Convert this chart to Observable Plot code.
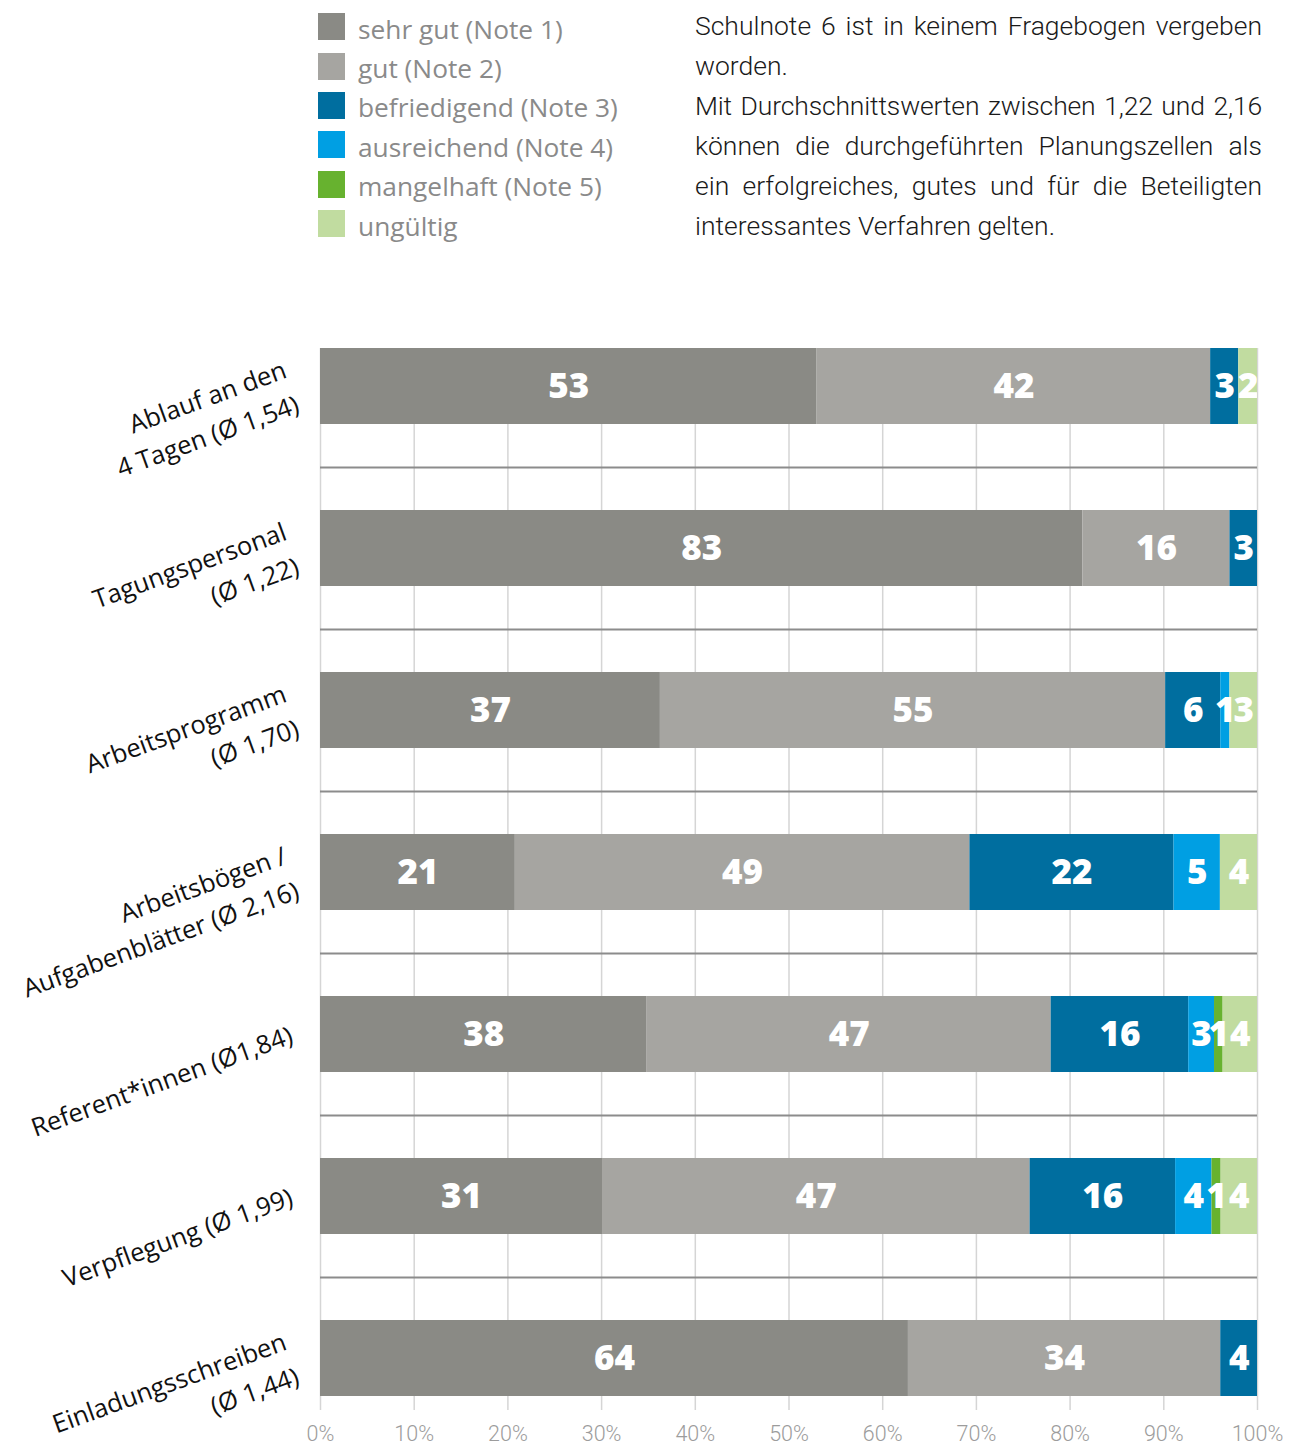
<!DOCTYPE html>
<html>
<head>
<meta charset="utf-8">
<script src="https://cdn.jsdelivr.net/npm/d3@7"></script>
<script src="https://cdn.jsdelivr.net/npm/@observablehq/plot@0.6"></script>
<style>
  html, body { margin: 0; padding: 0; background: #fff; }
  body { width: 1297px; }
  #header { position: relative; height: 260px; }
  #legend { position: absolute; left: 318px; top: 7px; font-family: "Open Sans", sans-serif; font-size: 26.3px; color: #8a8a8a; }
  #legend .row { display: flex; align-items: center; height: 39.4px; }
  #legend .sw { width: 27px; height: 27px; margin-right: 13px; flex: none; }
  #legend .lb { position: relative; top: 2px; white-space: nowrap; }
  #note { position: absolute; left: 695px; top: 6px; width: 567px; font-family: Roboto, sans-serif; font-weight: 300; font-size: 26.5px; line-height: 40px; color: #1a1a1a; }
  #note .j { text-align: justify; text-align-last: justify; white-space: nowrap; }
  #note .l { text-align: left; white-space: nowrap; }
  #chart svg { display: block; }
</style>
</head>
<body>
<div id="header">
  <div id="legend"></div>
  <div id="note">
    <div class="j">Schulnote 6 ist in keinem Fragebogen vergeben</div>
    <div class="l">worden.</div>
    <div class="j" style="letter-spacing:-0.15px">Mit Durchschnittswerten zwischen 1,22 und 2,16</div>
    <div class="j">können die durchgeführten Planungszellen als</div>
    <div class="j">ein erfolgreiches, gutes und für die Beteiligten</div>
    <div class="l">interessantes Verfahren gelten.</div>
  </div>
</div>
<div id="chart"></div>
<script>
// ---- data ----
const categories = [
  "Ablauf an den\n4 Tagen (Ø 1,54)",
  "Tagungspersonal\n(Ø 1,22)",
  "Arbeitsprogramm\n(Ø 1,70)",
  "Arbeitsbögen /\nAufgabenblätter (Ø 2,16)",
  "Referent*innen (Ø1,84)",
  "Verpflegung (Ø 1,99)",
  "Einladungsschreiben\n(Ø 1,44)"
];
const grades = ["sehr gut (Note 1)", "gut (Note 2)", "befriedigend (Note 3)", "ausreichend (Note 4)", "mangelhaft (Note 5)", "ungültig"];
const gradeColors = ["#8a8a85", "#a6a5a1", "#006e9f", "#009fe3", "#67b22f", "#c1dca0"];

const sehrGut      = [53, 83, 37, 21, 38, 31, 64];
const gut          = [42, 16, 55, 49, 47, 47, 34];
const befriedigend = [ 3,  3,  6, 22, 16, 16,  4];
const ausreichend  = [ 0,  0,  1,  5,  3,  4,  0];
const mangelhaft   = [ 0,  0,  0,  0,  1,  1,  0];
const ungueltig    = [ 2,  0,  3,  4,  4,  4,  0];
const xTicks = [0, 0.1, 0.2, 0.3, 0.4, 0.5, 0.6, 0.7, 0.8, 0.9, 1];

const series = [sehrGut, gut, befriedigend, ausreichend, mangelhaft, ungueltig];
const table = categories.flatMap((c, i) =>
  grades.map((g, j) => ({category: c, grade: g, value: series[j][i]}))
).filter(d => d.value > 0);

// ---- legend ----
const legend = document.getElementById("legend");
grades.forEach((g, j) => {
  const row = document.createElement("div");
  row.className = "row";
  const sw = document.createElement("div");
  sw.className = "sw";
  sw.style.background = gradeColors[j];
  const lb = document.createElement("div");
  lb.className = "lb";
  lb.textContent = g;
  row.append(sw, lb);
  legend.append(row);
});

// ---- chart ----
const W = 1297, H = 1183, mt = 88, mb = 47, ml = 320, mr = 40;
const pInner = 86 / 162, pOuter = 0;
const step = (H - mt - mb) / (categories.length - pInner + 2 * pOuter);

const chart = Plot.plot({
  width: W,
  height: H,
  marginTop: mt,
  marginBottom: mb,
  marginLeft: ml,
  marginRight: mr,
  style: {background: "#fff", overflow: "visible"},
  x: {domain: [0, 1], ticks: xTicks, label: null},
  y: {domain: categories, paddingInner: pInner, paddingOuter: pOuter, axis: null, label: null},
  color: {domain: grades, range: gradeColors},
  marks: [
    Plot.gridX(xTicks, {stroke: "#d5d5d5", strokeOpacity: 1, strokeWidth: 1.5}),
    Plot.ruleY(categories.slice(0, -1), {dy: step / 2, stroke: "#8c8c8c", strokeWidth: 2}),
    Plot.barX(table, Plot.stackX({x: "value", y: "category", fill: "grade", offset: "normalize"})),
    Plot.text(table, Plot.stackX({
      x: "value", y: "category", z: "grade", text: d => String(d.value), offset: "normalize",
      fill: "#fff", fontSize: 35, fontWeight: 800, fontFamily: "Open Sans", clip: true
    })),
    Plot.text(categories, {
      y: d => d, text: d => d, frameAnchor: "left", textAnchor: "end", lineAnchor: "middle",
      dx: -30, dy: -3, rotate: -20, fontSize: 25.5, fontFamily: "Open Sans", fill: "#111", lineHeight: 1.45
    }),
    Plot.axisX(xTicks, {
      tickFormat: d3.format(".0%"), tickSize: 14, tickPadding: 15, stroke: "#d5d5d5", strokeWidth: 1.5,
      fill: "#9c9c9c", fontSize: 21.5, fontFamily: "Roboto", fontWeight: 300, label: null
    })
  ]
});
document.getElementById("chart").append(chart);
</script>
</body>
</html>
